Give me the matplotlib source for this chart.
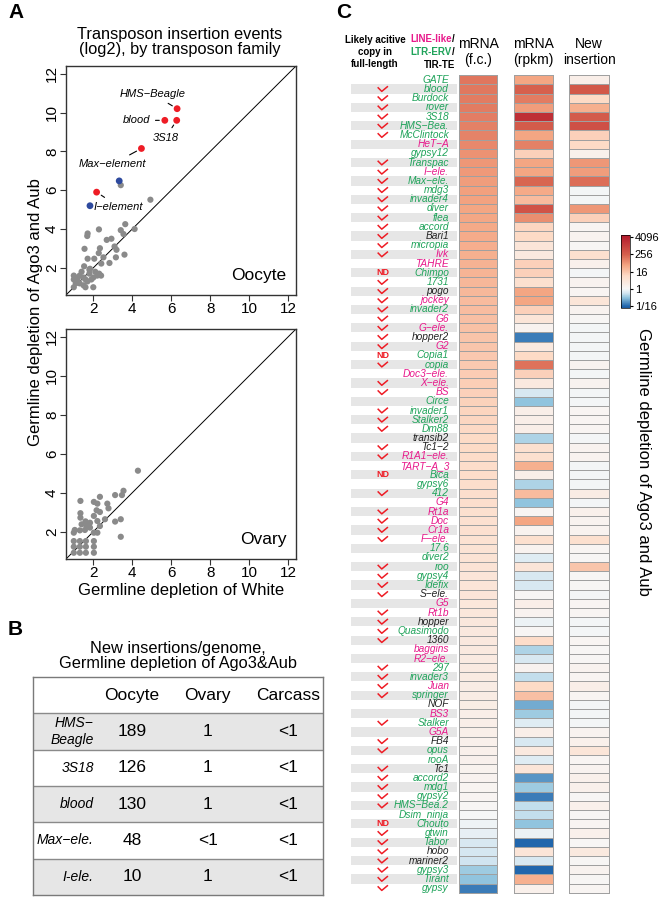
import numpy as np
import matplotlib
matplotlib.use('Agg')
import matplotlib.pyplot as plt
from matplotlib.colors import LinearSegmentedColormap, Normalize
from matplotlib.cm import ScalarMappable
from matplotlib.path import Path

plt.rcParams['font.family'] = ['Liberation Sans', 'DejaVu Sans']

W, H = 659, 900

# ---- panel A data (log2 insertion events) ----
ooc_gray_x = [3.41, 4.93, 3.64, 3.41, 4.12, 3.55, 2.29, 1.71, 1.69, 1.55, 2.93, 2.69, 3.09, 2.34, 2.28,
              2.52, 1.71, 2.05, 3.19, 3.16, 3.6, 2.83, 2.41, 1.53, 1.83, 1.0, 1.0, 1.2, 1.3, 1.5, 1.6,
              1.8, 2.0, 2.2, 2.3, 1.0, 1.3, 1.5, 1.7, 2.0, 1.8, 1.4, 1.2, 1.6, 1.1, 2.1, 1.9, 2.4]
ooc_gray_y = [6.26, 5.51, 4.25, 3.94, 4.0, 3.74, 3.98, 3.77, 3.64, 2.98, 3.5, 3.44, 3.1, 3.01, 2.76,
              2.54, 2.47, 2.47, 2.93, 2.54, 2.68, 2.25, 2.22, 2.08, 1.95, 1.6, 1.4, 1.5, 1.6, 1.5, 1.4,
              1.7, 1.5, 1.6, 1.7, 1.0, 1.2, 1.1, 1.3, 1.0, 1.9, 1.8, 1.3, 1.0, 1.2, 1.8, 1.4, 1.6]
ooc_red_names = ['HMS\u2212Beagle', 'blood', '3S18', 'Max\u2212element', 'I\u2212element']
ooc_red_x = [6.3, 5.67, 6.28, 4.47, 2.17]
ooc_red_y = [10.2, 9.6, 9.6, 8.15, 5.9]
ooc_blue_x = [3.33, 1.83]
ooc_blue_y = [6.48, 5.2]

ov_gray_x = [4.29, 3.55, 3.12, 3.47, 2.34, 1.34, 2.03, 2.21, 2.72, 2.78, 2.17, 2.34, 1.34, 1.34, 2.03,
             2.6, 3.41, 3.12, 2.21, 2.34, 3.41, 1.6, 1.83, 1.4, 1.66, 1.83, 1.31, 1.05, 1.0, 2.03, 2.21,
             1.57, 1.0, 1.31, 1.62, 2.03, 1.0, 1.31, 1.62, 2.03, 1.0, 1.31, 1.62, 2.03]
ov_gray_y = [5.13, 4.1, 3.88, 3.88, 3.79, 3.58, 3.53, 3.44, 3.44, 3.2, 3.1, 3.01, 2.95, 2.72, 2.81,
             2.64, 2.64, 2.52, 2.55, 2.29, 1.74, 2.53, 2.46, 2.38, 2.29, 2.21, 2.07, 2.09, 1.95, 1.95, 1.95,
             2.09, 1.52, 1.52, 1.52, 1.52, 1.23, 1.23, 1.23, 1.23, 0.92, 0.92, 0.92, 0.92]

# ---- panel B table ----
tab_cols = ['Oocyte', 'Ovary', 'Carcass']
tab_rows = ['HMS\u2212\nBeagle', '3S18', 'blood', 'Max\u2212ele.', 'I-ele.']
tab_oocyte = ['189', '126', '130', '48', '10']
tab_ovary = ['1', '1', '1', '<1', '1']
tab_carcass = ['<1', '<1', '<1', '<1', '<1']

# ---- panel C heatmap (log2 values) ----
te_names = ['GATE', 'blood', 'Burdock', 'rover', '3S18', 'HMS\u2212Bea.', 'McClintock', 'HeT\u2212A',
            'gypsy12', 'Transpac', 'I\u2212ele.', 'Max\u2212ele.', 'mdg3', 'invader4', 'diver', 'flea',
            'accord', 'Bari1', 'micropia', 'Ivk', 'TAHRE', 'Chimpo', '1731', 'pogo', 'jockey',
            'invader2', 'G6', 'G\u2212ele.', 'hopper2', 'G2', 'Copia1', 'copia', 'Doc3\u2212ele.',
            'X\u2212ele.', 'BS', 'Circe', 'invader1', 'Stalker2', 'Dm88', 'transib2', 'Tc1\u22122',
            'R1A1\u2212ele.', 'TART\u2212A_3', 'Bica', 'gypsy6', '412', 'G4', 'Rt1a', 'Doc', 'Cr1a',
            'F\u2212ele.', '17.6', 'diver2', 'roo', 'gypsy4', 'Idefix', 'S\u2212ele.', 'G5', 'Rt1b',
            'hopper', 'Quasimodo', '1360', 'baggins', 'R2\u2212ele.', '297', 'invader3', 'Juan',
            'springer', 'NOF', 'BS3', 'Stalker', 'G5A', 'FB4', 'opus', 'rooA', 'Tc1', 'accord2',
            'mdg1', 'gypsy2', 'HMS\u2212Bea.2', 'Dsim_ninja', 'Chouto', 'gtwin', 'Tabor', 'hobo',
            'mariner2', 'gypsy3', 'Tirant', 'gypsy']
te_family = ('EEEEEEELEE' 'LEEEEEETEL' 'LEETLELLTL' 'EELLLEEEET' 'TLLEEELLLL'
             'LEEEEETLLT' 'ETLLEELETL' 'ELTEETEEEE' 'EEEETTEEE')
te_active = ('-yyyyyy--y' 'yyyyyyyyyy' '-Nyyyyyyyy' 'Ny-yy-yyy-' 'yy-N-y-yyy'
             'y--yyyy-yy' 'yy--yyyy--' 'y-yy-yyyyy' '-Nyyyyyyy')
mrna_fc = [7.2, 7.1, 7.0, 7.0, 6.9, 6.8, 6.7, 6.5, 6.2, 6.0, 5.9, 5.8, 5.7, 5.6, 5.5, 5.4, 5.3, 5.2,
           5.1, 5.0, 4.9, 4.8, 4.7, 4.6, 4.5, 4.4, 4.3, 4.2, 4.1, 4.0, 3.9, 3.8, 3.7, 3.6, 3.5, 3.4,
           3.3, 3.2, 3.1, 3.0, 3.0, 2.9, 2.8, 2.8, 2.7, 2.6, 2.6, 2.5, 2.4, 2.4, 2.3, 2.2, 2.2, 2.1,
           2.0, 2.0, 1.9, 1.8, 1.8, 1.7, 1.6, 1.6, 1.5, 1.4, 1.4, 1.3, 1.2, 1.2, 1.1, 1.0, 1.0, 0.9,
           0.8, 0.8, 0.7, 0.6, 0.5, 0.4, 0.3, 0.2, 0.0, -0.2, -0.4, -0.8, -0.9, -1.0, -1.8, -2.0, -3.5]
mrna_rpkm = [5.5, 8.0, 7.0, 5.8, 11.0, 8.3, 5.5, 6.8, 3.5, 5.5, 5.5, 7.8, 5.3, 4.5, 8.8, 6.3, 3.2,
             3.0, 2.0, 1.5, 3.5, 3.5, 2.5, 5.5, 5.5, 3.5, 2.0, 0.5, -3.5, 1.5, 3.0, 7.3, 3.5, 1.5,
             -0.8, -2.0, 1.0, 1.0, 1.0, -1.5, 2.5, 2.5, 5.0, 1.0, -1.5, 4.5, -2.0, 0.3, 5.5, 0.5,
             2.5, 0.5, -0.6, 2.0, -0.8, -0.8, 0.2, 1.0, 0.5, -0.3, 0.2, 2.8, -1.5, -0.8, 0.5, -1.2,
             3.0, 4.3, -2.5, -1.8, -0.6, 1.0, -0.8, 1.5, -0.6, 2.0, -3.0, -1.8, -3.5, -1.2, -1.2,
             -2.0, -0.3, -4.0, 2.0, -0.8, -4.0, 5.0, 0.8]
new_ins = [1.0, 8.5, 3.0, 5.0, 8.3, 9.0, 3.5, 3.0, 0.8, 6.0, 5.8, 7.5, -0.1, -0.1, 6.0, 3.5, 0.3,
           0.5, 0.2, 2.5, 0.8, -0.1, 0.5, 0.3, 2.0, 0.5, 0.2, -0.1, -0.1, -0.1, -0.1, 0.5, -0.1,
           0.5, -0.1, -0.1, 0.3, 0.3, 0.3, -0.1, 0.5, 0.5, -0.1, -0.1, -0.1, 1.2, -0.1, 0.8, 0.5,
           0.5, 2.5, 0.3, 0.2, 4.0, 0.2, 0.2, -0.1, 0.3, 0.3, -0.1, -0.1, 0.3, 0.2, 0.2, 0.5, 0.3,
           1.0, 0.3, -0.1, -0.1, -0.1, 0.5, 0.8, 2.0, 0.3, 0.5, 0.8, 0.8, 0.2, 0.8, 0.2, 0.3, 0.8,
           0.2, 1.5, 0.2, 0.5, 0.2, 0.3]
cbar_ticks = [12, 8, 4, 0, -4]
cbar_labels = ['4096', '256', '16', '1', '1/16']

fam_colors = {'L': '#e8198b', 'E': '#1fa35a', 'T': '#222222'}
red = '#ee1c25'

# check mark used in the "likely active" column
check = Path([(-1.0, 0.35), (-0.2, -0.45), (1.0, 0.55)], [Path.MOVETO, Path.LINETO, Path.LINETO])


def px_axes(x0, y0, x1, y1):
    return fig.add_axes([x0 / W, 1 - y1 / H, (x1 - x0) / W, (y1 - y0) / H])


fig = plt.figure(figsize=(W / 100, H / 100), dpi=100)

# panel letters
fig.text(8 / W, 1 - 18 / H, 'A', fontsize=15, fontweight='bold')
fig.text(8 / W, 1 - 635 / H, 'B', fontsize=15, fontweight='bold')
fig.text(336 / W, 1 - 18 / H, 'C', fontsize=15, fontweight='bold')

# ---------------- panel A ----------------
fig.text(180 / W, 1 - 42 / H, 'Transposon insertion events\n(log2), by transposon family',
         ha='center', va='center', fontsize=11.8, linespacing=1.05)


def scatter_panel(ax, label):
    ax.set_xlim(0.6, 12.4)
    ax.set_ylim(0.6, 12.4)
    ax.plot([0, 13], [0, 13], color='black', lw=0.7, zorder=1)
    ax.set_xticks([2, 4, 6, 8, 10, 12])
    ax.set_yticks([2, 4, 6, 8, 10, 12])
    ax.tick_params(labelsize=11, length=4, width=0.8, color='#333333', pad=1)
    for t in ax.get_yticklabels():
        t.set_rotation(90)
        t.set_va('center')
    for s in ax.spines.values():
        s.set_linewidth(1.0)
        s.set_color('#333333')
    ax.text(11.9, 1.6, label, ha='right', va='center', fontsize=12.5)


ax_o = px_axes(66, 66, 296, 295)
scatter_panel(ax_o, 'Oocyte')
ax_o.scatter(ooc_gray_x, ooc_gray_y, s=20, color='#8a8a8a', edgecolors='none', zorder=2)
ax_o.scatter(ooc_blue_x, ooc_blue_y, s=24, color='#2e4a9e', edgecolors='none', zorder=3)
ax_o.scatter(ooc_red_x, ooc_red_y, s=24, color=red, edgecolors='none', zorder=3)
ann_pos = [(5.05, 10.95), (4.2, 9.6), (5.7, 8.7), (3.0, 7.35), (3.3, 5.15)]
for name, x, y, pos in zip(ooc_red_names, ooc_red_x, ooc_red_y, ann_pos):
    ax_o.annotate(name, xy=(x, y), xytext=pos, ha='center', va='center', fontsize=8, style='italic',
                  arrowprops=dict(arrowstyle='-', lw=0.8, color='black', shrinkA=2, shrinkB=4))

ax_v = px_axes(66, 329, 296, 559)
scatter_panel(ax_v, 'Ovary')
ax_v.scatter(ov_gray_x, ov_gray_y, s=20, color='#8a8a8a', edgecolors='none', zorder=2)
ax_v.set_xlabel('Germline depletion of White', fontsize=12, labelpad=2)

fig.text(36 / W, 1 - 312 / H, 'Germline depletion of Ago3 and Aub', rotation=90,
         ha='center', va='center', fontsize=12)

# ---------------- panel B ----------------
fig.text(178 / W, 1 - 656 / H, 'New insertions/genome,\nGermline depletion of Ago3&Aub',
         ha='center', va='center', fontsize=11.8, linespacing=1.05)
ax_t = px_axes(33, 677, 323, 895)
ax_t.set_xlim(0, 1)
ax_t.set_ylim(6, 0)
ax_t.set_xticks([])
ax_t.set_yticks([])
for s in ax_t.spines.values():
    s.set_color('#7a7a7a')
    s.set_linewidth(1.0)
for i in range(1, 6):
    if i % 2 == 1:
        ax_t.axhspan(i, i + 1, color='#e6e6e6', lw=0, zorder=0)
    ax_t.axhline(i, color='#8a8a8a', lw=1.0, zorder=1)
col_x = [0.341, 0.603, 0.879]
for cx, cname in zip(col_x, tab_cols):
    ax_t.text(cx, 0.5, cname, ha='center', va='center', fontsize=12.5)
for i, (rname, a, b, c) in enumerate(zip(tab_rows, tab_oocyte, tab_ovary, tab_carcass)):
    y = i + 1.5
    ax_t.text(0.21, y, rname, ha='right', va='center', fontsize=10, style='italic', linespacing=1.2)
    for cx, v in zip(col_x, [a, b, c]):
        ax_t.text(cx, y, v, ha='center', va='center', fontsize=12.5)

# ---------------- panel C ----------------
n = len(te_names)
top, bottom = 75.3, 892.7

cmap_anchors = [(-4.4, '#1c5a9e'), (-4, '#2166ac'), (-2, '#92c5de'), (-1, '#d1e5f0'),
                (0, '#f7f7f7'), (3, '#fddbc7'), (5.5, '#f4a582'), (8, '#d6604d'), (12.5, '#b2182b')]
vmin, vmax = -4.4, 12.5
cmap = LinearSegmentedColormap.from_list(
    'te', [((v - vmin) / (vmax - vmin), c) for v, c in cmap_anchors])
norm = Normalize(vmin, vmax)

ax_l = px_axes(351, top, 457, bottom)
ax_l.set_xlim(0, 1)
ax_l.set_ylim(n - 0.5, -0.5)
ax_l.axis('off')
rows = np.arange(n)
ax_l.barh(rows[1::2], 1, height=1, left=0, color='#e6e6e6', lw=0)
for i, (name, fam) in enumerate(zip(te_names, te_family)):
    ax_l.text(0.925, i, name, ha='right', va='center', fontsize=7.3, style='italic',
              color=fam_colors[fam])
act_rows = [i for i, a in enumerate(te_active) if a == 'y']
nd_rows = [i for i, a in enumerate(te_active) if a == 'N']
ax_l.scatter([0.30] * len(act_rows), act_rows, marker=check, s=55, facecolors='none',
             edgecolors=red, linewidths=1.1, zorder=3)
for i in nd_rows:
    ax_l.text(0.30, i, 'ND', ha='center', va='center', fontsize=6.5, color=red, fontweight='bold')

col_px = [(459, 497), (514, 553), (569, 609)]
for vals, (x0, x1) in zip([mrna_fc, mrna_rpkm, new_ins], col_px):
    ax = px_axes(x0, top, x1, bottom)
    mesh = ax.pcolormesh(np.array(vals).reshape(-1, 1), cmap=cmap, norm=norm,
                         edgecolors='#a0a0a0', linewidth=0.7)
    mesh.set_clip_on(False)
    ax.set_xlim(0, 1)
    ax.set_ylim(n, 0)
    ax.axis('off')

# headers
fig.text(375 / W, 1 - 52 / H, 'Likely acitive\ncopy in\nfull-length', ha='center', va='center',
         fontsize=7, fontweight='bold', linespacing=1.25)
fig.text(452 / W, 1 - 39 / H, 'LINE-like', ha='right', va='center', fontsize=7,
         fontweight='bold', color=fam_colors['L'])
fig.text(452 / W, 1 - 39 / H, '/', ha='left', va='center', fontsize=7, fontweight='bold')
fig.text(452 / W, 1 - 52 / H, 'LTR-ERV', ha='right', va='center', fontsize=7,
         fontweight='bold', color=fam_colors['E'])
fig.text(452 / W, 1 - 52 / H, '/', ha='left', va='center', fontsize=7, fontweight='bold')
fig.text(455 / W, 1 - 65 / H, 'TIR-TE', ha='right', va='center', fontsize=7, fontweight='bold')
for (x0, x1), txt in zip(col_px, ['mRNA\n(f.c.)', 'mRNA\n(rpkm)', 'New\ninsertion']):
    fig.text((x0 + x1) / 2 / W, 1 - 52 / H, txt, ha='center', va='center', fontsize=10,
             linespacing=1.15)

# colorbar
cax = px_axes(621, 235, 630, 308)
cb = fig.colorbar(ScalarMappable(norm=norm, cmap=cmap), cax=cax, ticks=cbar_ticks)
cb.ax.set_yticklabels(cbar_labels)
cb.ax.tick_params(labelsize=8, length=2.5, width=0.8, pad=1)
cb.outline.set_linewidth(0.5)

fig.text(643 / W, 1 - 462 / H, 'Germline depletion of Ago3 and Aub', rotation=270,
         ha='center', va='center', fontsize=12)

fig.savefig('out.png', dpi=100)
